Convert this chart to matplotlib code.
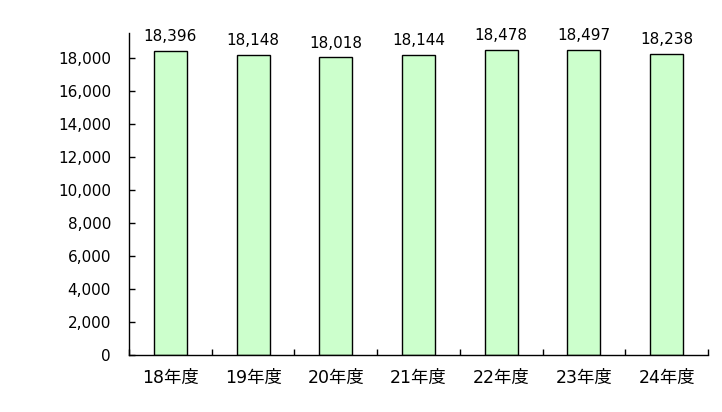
import matplotlib
matplotlib.use("Agg")
import matplotlib.pyplot as plt
import numpy as np

categories = ["18年度", "19年度", "20年度", "21年度", "22年度", "23年度", "24年度"]
values = [18396, 18148, 18018, 18144, 18478, 18497, 18238]
yticks = list(range(0, 18001, 2000))

plt.rcParams['font.family'] = ['DejaVu Sans', 'Noto Sans CJK JP']

fig = plt.figure(figsize=(7.22, 4.12), dpi=100)
ax = fig.add_axes([0.1787, 0.1383, 0.8019, 0.7816])

x = np.arange(len(categories))
ax.bar(x, values, width=0.40, color="#CCFFCC", edgecolor="black", linewidth=1.0, zorder=2)

for xi, v in zip(x, values):
    ax.annotate(f"{v:,}", (xi, v), xytext=(0, 5), textcoords="offset points",
                ha="center", va="bottom", fontsize=11)

ax.set_xlim(-0.5, len(categories) - 0.5)
ax.set_ylim(0, 19500)
ax.set_yticks(yticks)
ax.set_yticklabels([f"{t:,}" for t in yticks], fontsize=11)
ax.set_xticks(x)
ax.set_xticklabels(categories, fontsize=12.5)
ax.tick_params(axis="x", which="major", length=0, pad=10)
ax.set_xticks(np.arange(len(categories) + 1) - 0.5, minor=True)
ax.tick_params(axis="x", which="minor", direction="in", length=4, width=1)
ax.tick_params(axis="y", direction="in", length=4, width=1, pad=13)

for s in ["top", "right"]:
    ax.spines[s].set_visible(False)
for s in ["left", "bottom"]:
    ax.spines[s].set_linewidth(1.0)

fig.savefig("out.png", dpi=100)
